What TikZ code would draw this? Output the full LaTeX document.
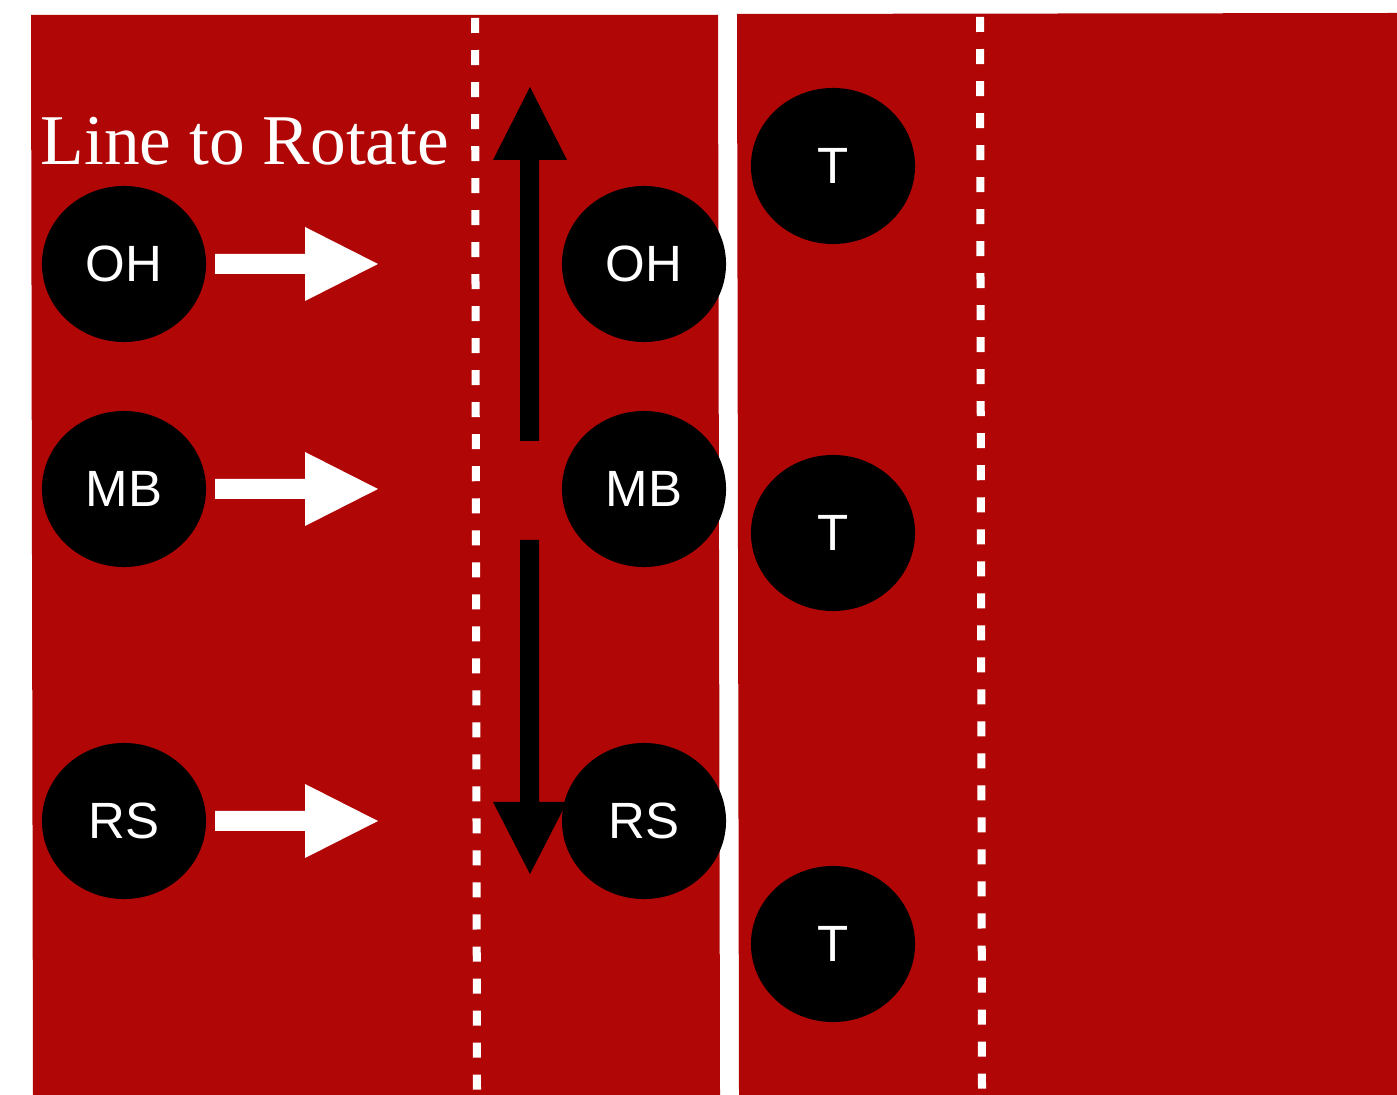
\documentclass[tikz,border=0pt]{standalone}
\usepackage{fontspec}
\newfontfamily\labelfont{Liberation Sans}
\newfontfamily\titlefont{Liberation Serif}
\usepackage{tikz}
\usetikzlibrary{shapes.geometric}
\definecolor{fieldred}{RGB}{176,7,6}

\begin{document}
\begin{tikzpicture}[x=0.01cm,y=-0.01cm,
  player/.style={ellipse,fill=black,text=white,minimum width=1.64cm,minimum height=1.56cm,inner sep=0pt,font=\labelfont\fontsize{14.5}{16}\selectfont},
  yardline/.style={white,line width=0.08cm,dash pattern=on 0.15cm off 0.17cm}]
\useasboundingbox (0,0) rectangle (1397,1095);

% field halves
\fill[fieldred] (31,15) -- (718,15) -- (720,1095) -- (33,1095) -- cycle;
\fill[fieldred] (737,14) -- (1397,13) -- (1397,1095) -- (739,1095) -- cycle;

% dashed lines
\draw[yardline] (475,18) -- (477,1092);
\draw[yardline] (980,17) -- (982,1092);

% label
\node[anchor=base west,text=white,inner sep=0pt,font=\titlefont\fontsize{20.3}{24}\selectfont] (title) at (40,165) {Line to Rotate};

% players
\node[player] (oh) at (124,264) {OH};
\node[player] (mb) at (124,489) {MB};
\node[player] (rs) at (124,821) {RS};
\node[player] (oh2) at (644,264) {OH};
\node[player] (mb2) at (644,489) {MB};
\node[player] (rs2) at (644,821) {RS};
\node[player] (t1) at (833,166) {T};
\node[player] (t2) at (833,533) {T};
\node[player] (t3) at (833,944) {T};

% white arrows
\foreach \y in {264,489,821}
  \fill[white] (215,\y-10) -- (305,\y-10) -- (305,\y-37) -- (378,\y)
               -- (305,\y+37) -- (305,\y+10) -- (215,\y+10) -- cycle;

% rotation arrows
\fill[black] (520,441) -- (520,160) -- (493,160) -- (530,87) -- (567,160)
             -- (539,160) -- (539,441) -- cycle;
\fill[black] (520,540) -- (520,802) -- (493,802) -- (530,874) -- (567,802)
             -- (539,802) -- (539,540) -- cycle;

\end{tikzpicture}
\end{document}
